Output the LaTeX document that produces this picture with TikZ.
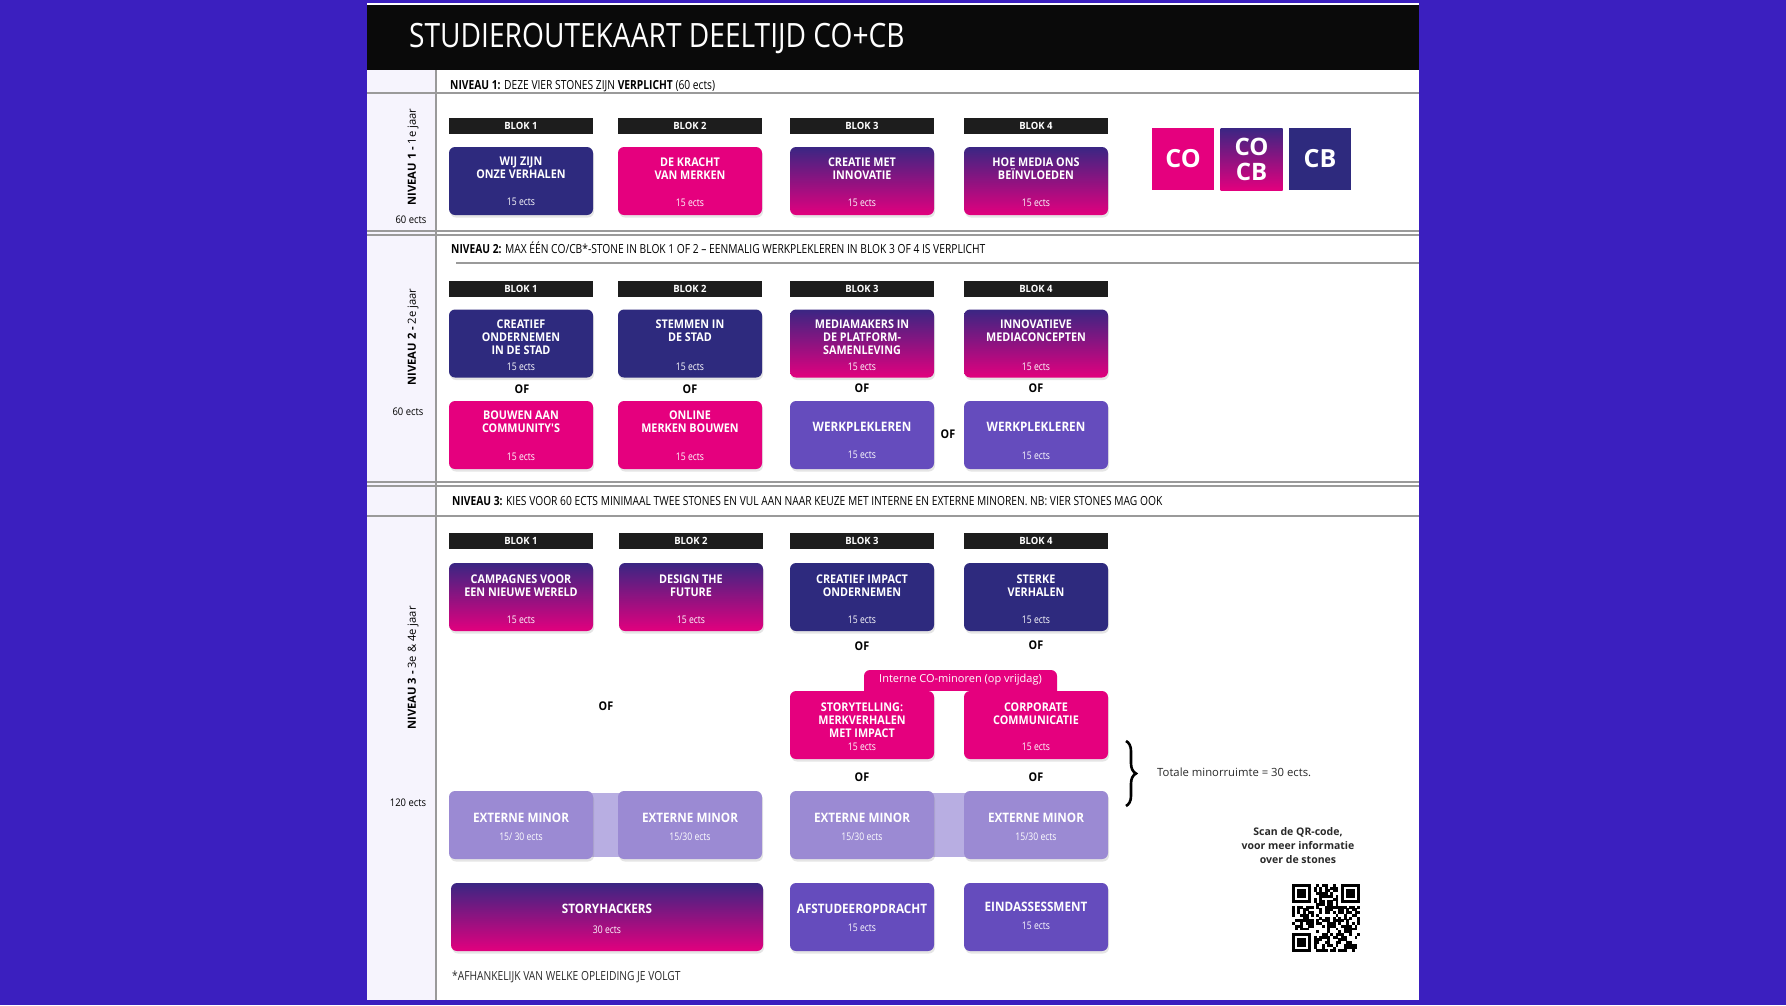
\documentclass[tikz,border=0pt]{standalone}
\usepackage{fontspec}
\setmainfont{Open Sans}
\newfontfamily\condf[FakeStretch=0.82]{Open Sans}
\newfontfamily\scondf[FakeStretch=0.90]{Open Sans}
\newfontfamily\blokf[FakeStretch=0.95]{Open Sans}
\newfontfamily\titlef[FakeStretch=0.84]{Open Sans}
\usetikzlibrary{shadows,decorations.pathreplacing}
\definecolor{bgblue}{HTML}{3B1FBF}
\definecolor{navy}{HTML}{2E2A7E}
\definecolor{hpink}{HTML}{E5007E}
\definecolor{violet}{HTML}{654CBD}
\definecolor{lilac}{HTML}{9B8AD3}
\definecolor{band}{HTML}{B8AEE2}
\definecolor{gtop}{HTML}{3A2683}
\definecolor{gbot}{HTML}{E2007E}
\definecolor{rulegray}{HTML}{9A9A9A}
\definecolor{blokbg}{HTML}{1D1D1D}
\definecolor{darktext}{HTML}{2A2A2A}
\definecolor{leftcol}{HTML}{F6F4FD}
% name, "x,y", title, style, ects, title offset from top, ects offset from bottom
\newcommand\mkstone[7]{%
  \node[#4] (#1) at (#2) {};
  \node[ttl,anchor=north] (#1t) at ([yshift=-#6pt]#1.north) {#3};
  \node[ects] (#1e) at ([yshift=#7pt]#1.south) {#5};
}
% name, "x,y", title, style, ects, title shift up from centre, ects shift (neg = down)
\newcommand\mkbig[7]{%
  \node[#4] (#1) at (#2) {};
  \node[big] (#1t) at ([yshift=#6pt]#1.center) {#3};
  \node[ects] (#1e) at ([yshift=#7pt]#1.center) {#5};
}
\begin{document}
\begin{tikzpicture}[x=1pt,y=-1pt,
  stone/.style={rounded corners=6pt,minimum width=144pt,minimum height=68pt,inner sep=0pt,
     drop shadow={shadow xshift=1pt,shadow yshift=-2.5pt,opacity=0.2}},
  snavy/.style={stone,fill=navy},
  spink/.style={stone,fill=hpink},
  sgrad/.style={stone,top color=gtop,bottom color=gbot},
  sviol/.style={stone,fill=violet},
  slil/.style={stone,fill=lilac},
  blokbar/.style={fill=blokbg,minimum width=144pt,minimum height=16pt,inner sep=0pt,text=white,
     font=\blokf\bfseries\fontsize{10}{11}\selectfont},
  ttl/.style={text=white,align=center,inner sep=0pt,font=\scondf\bfseries\fontsize{12}{13}\selectfont},
  ects/.style={text=white,inner sep=0pt,font=\condf\fontsize{10.5}{11}\selectfont},
  big/.style={text=white,inner sep=0pt,font=\scondf\bfseries\fontsize{13}{15}\selectfont},
  oftxt/.style={inner sep=0pt,font=\scondf\bfseries\fontsize{12}{14}\selectfont},
  hdr/.style={anchor=west,inner sep=0pt,font=\condf\fontsize{12.5}{14}\selectfont},
  vlab/.style={rotate=90,inner sep=0pt,font=\fontsize{11.2}{13}\selectfont},
  ectlab/.style={inner sep=0pt,font=\scondf\fontsize{10.5}{12}\selectfont},
  rl/.style={draw=rulegray,line width=1.4pt},
  logo/.style={minimum size=62pt,inner sep=0pt,text=white,align=center,
     font=\bfseries\fontsize{25}{27}\selectfont},
]
\useasboundingbox (0,0) rectangle (1786,1005);
% background and page
\fill[bgblue] (0,0) rectangle (1786,1005);
\fill[white] (367,3) rectangle (1419,1000);
\fill[leftcol] (367,70) rectangle (436,1000);
\fill[black!96] (367,5) rectangle (1419,70);
\node[anchor=west,inner sep=0pt,text=white,font=\titlef\fontsize{33.5}{36}\selectfont] (title) at (409,38.5) {STUDIEROUTEKAART DEELTIJD CO+CB};

% rules
\draw[rl] (367,93) -- (1419,93);
\draw[rl] (367,231) -- (1419,231);
\draw[rl] (367,235) -- (1419,235);
\draw[rl] (456,263) -- (1419,263);
\draw[rl] (367,482) -- (1419,482);
\draw[rl] (367,486) -- (1419,486);
\draw[rl] (367,516) -- (1419,516);
\draw[draw=rulegray,line width=1.2pt] (436,70) -- (436,1000);

% headers
\node[hdr] (h1) at (450,86) {\textbf{NIVEAU 1:} DEZE VIER STONES ZIJN \textbf{VERPLICHT} (60 ects)};
\node[hdr] (h2) at (451,248) {\textbf{NIVEAU 2:} MAX ÉÉN CO/CB*-STONE IN BLOK 1 OF 2 – EENMALIG WERKPLEKLEREN IN BLOK 3 OF 4 IS VERPLICHT};
\node[hdr] (h3) at (452,501) {\textbf{NIVEAU 3:} KIES VOOR 60 ECTS MINIMAAL TWEE STONES EN VUL AAN NAAR KEUZE MET INTERNE EN EXTERNE MINOREN. NB: VIER STONES MAG OOK};

% left labels
\node[vlab] (v1) at (413,157) {\textbf{NIVEAU 1 -} 1e jaar};
\node[vlab] (v2) at (413,337) {\textbf{NIVEAU 2 -} 2e jaar};
\node[vlab] (v3) at (413,668) {\textbf{NIVEAU 3 -} 3e \& 4e jaar};
\node[ectlab] (e1) at (411,220) {60 ects};
\node[ectlab] (e2) at (408,412) {60 ects};
\node[ectlab] (e3) at (408,803) {120 ects};

% ---------- Niveau 1
\node[blokbar] (b11) at (521,126) {BLOK 1};
\node[blokbar] (b12) at (690,126) {BLOK 2};
\node[blokbar] (b13) at (862,126) {BLOK 3};
\node[blokbar] (b14) at (1036,126) {BLOK 4};
\mkstone{s11}{521,181}{WIJ ZIJN\\ONZE VERHALEN}{snavy}{15 ects}{10}{13}
\mkstone{s12}{690,181}{DE KRACHT\\VAN MERKEN}{spink}{15 ects}{11}{12}
\mkstone{s13}{862,181}{CREATIE MET\\INNOVATIE}{sgrad}{15 ects}{11}{12}
\mkstone{s14}{1036,181}{HOE MEDIA ONS\\BEÏNVLOEDEN}{sgrad}{15 ects}{11}{12}
\node[logo,fill=hpink] (lco) at (1183,159) {CO};
\node[logo,top color=gtop,bottom color=gbot,font=\bfseries\fontsize{24}{25}\selectfont] (lcocb) at (1251.5,159) {CO\\CB};
\node[logo,fill=navy] (lcb) at (1320,159) {CB};

% ---------- Niveau 2
\node[blokbar] (b21) at (521,289) {BLOK 1};
\node[blokbar] (b22) at (690,289) {BLOK 2};
\node[blokbar] (b23) at (862,289) {BLOK 3};
\node[blokbar] (b24) at (1036,289) {BLOK 4};
\mkstone{s21}{521,343.5}{CREATIEF\\ONDERNEMEN\\IN DE STAD}{snavy}{15 ects}{10}{11}
\mkstone{s22}{690,343.5}{STEMMEN IN\\DE STAD}{snavy}{15 ects}{10}{11}
\mkstone{s23}{862,343.5}{MEDIAMAKERS IN\\DE PLATFORM-\\SAMENLEVING}{sgrad}{15 ects}{10}{11}
\mkstone{s24}{1036,343.5}{INNOVATIEVE\\MEDIACONCEPTEN}{sgrad}{15 ects}{10}{11}
\node[oftxt] (of21) at (522,389) {OF};
\node[oftxt] (of22) at (690,389) {OF};
\node[oftxt] (of23) at (862,388) {OF};
\node[oftxt] (of24) at (1036,388) {OF};
\mkstone{s25}{521,435}{BOUWEN AAN\\COMMUNITY'S}{spink}{15 ects}{10}{12}
\mkstone{s26}{690,435}{ONLINE\\MERKEN BOUWEN}{spink}{15 ects}{10}{12}
\mkbig{s27}{862,435}{WERKPLEKLEREN}{sviol}{15 ects}{8}{-20}
\mkbig{s28}{1036,435}{WERKPLEKLEREN}{sviol}{15 ects}{8}{-21}
\node[oftxt] (of25) at (948,434) {OF};

% ---------- Niveau 3
\node[blokbar] (b31) at (521,541) {BLOK 1};
\node[blokbar] (b32) at (691,541) {BLOK 2};
\node[blokbar] (b33) at (862,541) {BLOK 3};
\node[blokbar] (b34) at (1036,541) {BLOK 4};
\mkstone{s31}{521,597}{CAMPAGNES VOOR\\EEN NIEUWE WERELD}{sgrad}{15 ects}{12}{11}
\mkstone{s32}{691,597}{DESIGN THE\\FUTURE}{sgrad}{15 ects}{12}{11}
\mkstone{s33}{862,597}{CREATIEF IMPACT\\ONDERNEMEN}{snavy}{15 ects}{12}{11}
\mkstone{s34}{1036,597}{STERKE\\VERHALEN}{snavy}{15 ects}{12}{11}
\node[oftxt] (of31) at (862,646) {OF};
\node[oftxt] (of32) at (1036,645) {OF};
\node[oftxt] (of33) at (606,706) {OF};

% interne minoren tab
\begin{scope}
  \clip (850,660) rectangle (1070,690.5);
  \fill[hpink,rounded corners=6pt] (864,670) rectangle (1057,706);
\end{scope}
\node[inner sep=0pt,text=white,font=\fontsize{11}{12}\selectfont] (tab) at (960.5,680) {Interne CO-minoren (op vrijdag)};
\mkstone{s35}{862,725}{STORYTELLING:\\MERKVERHALEN\\MET IMPACT}{spink}{15 ects}{12}{12}
\mkstone{s36}{1036,725}{CORPORATE\\COMMUNICATIE}{spink}{15 ects}{12}{12}
\node[oftxt] (of34) at (862,777) {OF};
\node[oftxt] (of35) at (1036,777) {OF};

% externe minoren with connecting bands
\fill[band] (585,793) rectangle (628,857);
\fill[band] (925,793) rectangle (973,857);
\mkbig{em1}{521,825}{EXTERNE MINOR}{slil}{15/ 30 ects}{7}{-12}
\mkbig{em2}{690,825}{EXTERNE MINOR}{slil}{15/30 ects}{7}{-12}
\mkbig{em3}{862,825}{EXTERNE MINOR}{slil}{15/30 ects}{7}{-12}
\mkbig{em4}{1036,825}{EXTERNE MINOR}{slil}{15/30 ects}{7}{-12}

% brace
\draw[line width=2.6pt,decorate,decoration={brace,amplitude=10pt}] (1126,741) -- (1126,806);
\node[anchor=west,inner sep=0pt,text=darktext,font=\fontsize{11.3}{13}\selectfont] (tot) at (1157,772) {Totale minorruimte = 30 ects.};

% bottom row
\mkbig{sh}{607,917}{STORYHACKERS}{sgrad,minimum width=312pt}{30 ects}{8}{-13}
\mkbig{af}{862,917}{AFSTUDEEROPDRACHT}{sviol}{15 ects}{8}{-11}
\mkbig{ea}{1036,917}{EINDASSESSMENT}{sviol}{15 ects}{10}{-9}

\node[hdr,text=darktext] (fn) at (452,977) {*AFHANKELIJK VAN WELKE OPLEIDING JE VOLGT};

% QR text and code
\node[align=center,inner sep=0pt,text=darktext,font=\bfseries\fontsize{10.5}{14}\selectfont] (scan) at (1298,846) {Scan de QR-code,\\voor meer informatie\\over de stones};
\begin{scope}[shift={(1292,884)}]
  \pgfmathsetseed{31}
  \foreach \i in {0,...,24}{
    \foreach \j in {0,...,24}{
      \pgfmathtruncatemacro{\fz}{((\i<8)&&(\j<8)) || ((\i>16)&&(\j<8)) || ((\i<8)&&(\j>16))}
      \pgfmathtruncatemacro{\rr}{rnd<0.5}
      \ifnum\fz=0 \ifnum\rr=1 \fill[black] (\i*2.72,\j*2.72) rectangle ++(2.9,2.9); \fi\fi
    }
  }
  \foreach \a/\b in {0/0,18/0,0/18}{
    \fill[black] (\a*2.72,\b*2.72) rectangle ++(19.04,19.04);
    \fill[white] (\a*2.72+2.72,\b*2.72+2.72) rectangle ++(13.6,13.6);
    \fill[black] (\a*2.72+5.44,\b*2.72+5.44) rectangle ++(8.16,8.16);
  }
\end{scope}
\end{tikzpicture}
\end{document}
